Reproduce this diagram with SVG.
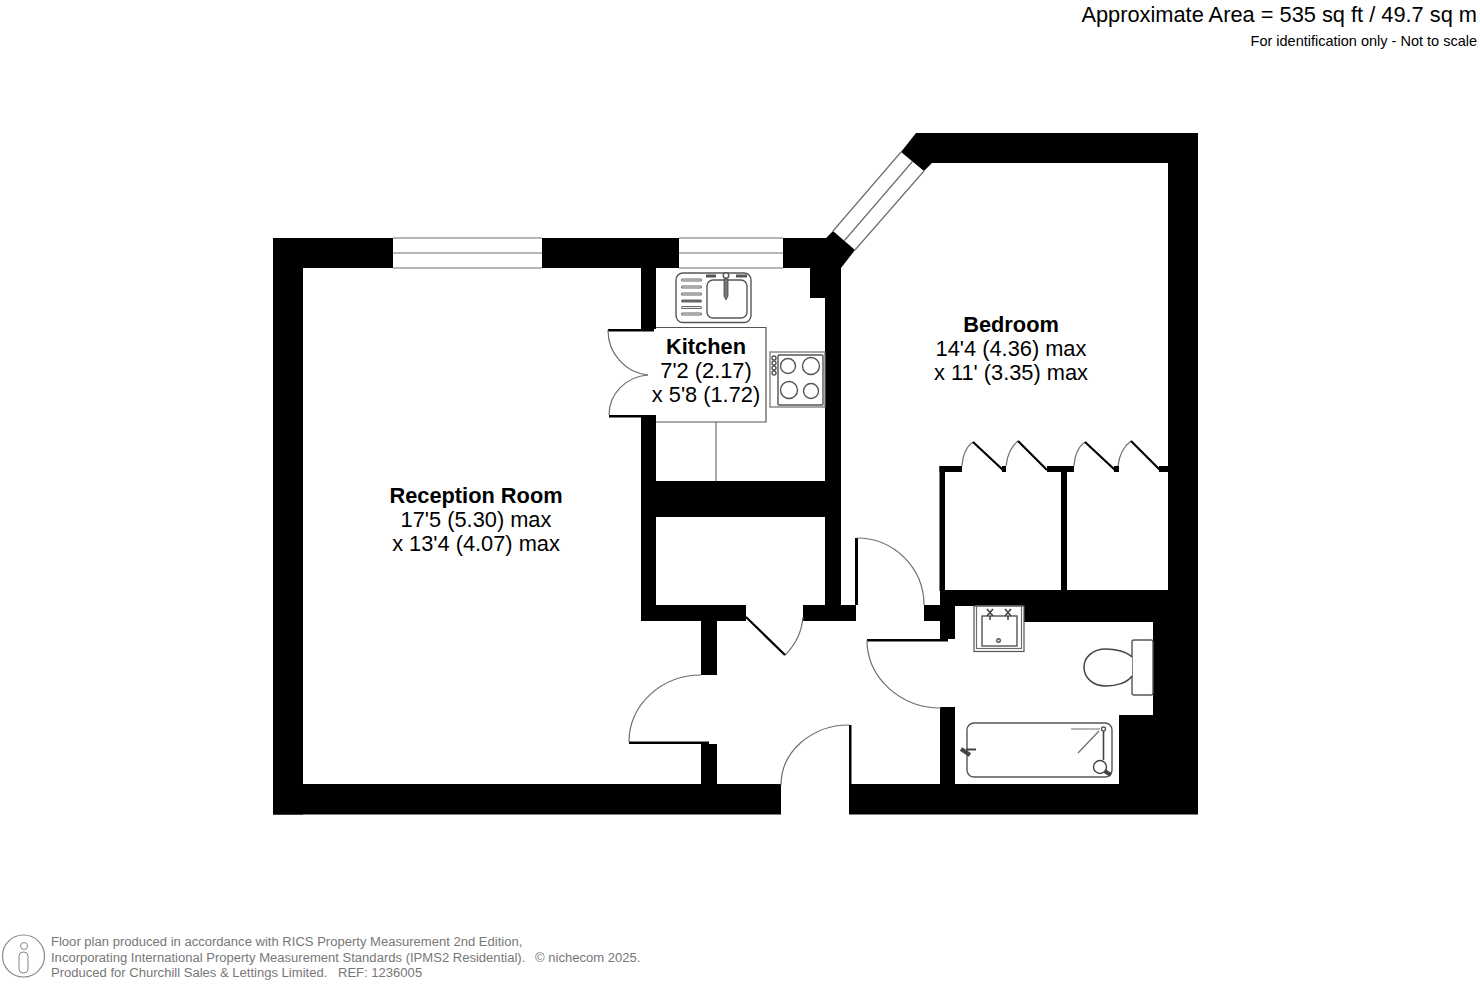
<svg xmlns="http://www.w3.org/2000/svg" width="1480" height="984" viewBox="0 0 1480 984">
<style>
.w{fill:#000}
.l{fill:none;stroke:#6e6e6e;stroke-width:1.2}
.f{fill:none;stroke:#555;stroke-width:1.4}
.lf{fill:none;stroke:#000;stroke-width:2.2}
text{font-family:"Liberation Sans",Arial,sans-serif;fill:#000}
.b{font-weight:bold}
.r{font-size:21.8px;text-anchor:middle}
.foot{font-size:13.05px;fill:#777}
</style>
<rect width="1480" height="984" fill="#fff"/>
<g id="walls">
<rect class="w" x="273" y="238" width="120" height="30"/>
<rect class="w" x="542" y="238" width="137" height="30"/>
<polygon class="w" points="783,238 826,238 833,231 855,250 841,268 841,621 856,621 856,605 858,605 858,538 855,538 855,605 825,605 825,298 810,298 810,268 783,268"/>
<rect class="w" x="273" y="238" width="30" height="576.500"/>
<rect class="w" x="273" y="784" width="508" height="30.500"/>
<rect class="w" x="849" y="784" width="349" height="30.500"/>
<rect class="w" x="849" y="725" width="2.500" height="60"/>
<rect class="w" x="641" y="268" width="15" height="61"/>
<rect class="w" x="608" y="329" width="46" height="2.500"/>
<rect class="w" x="609" y="415" width="47" height="2.500"/>
<rect class="w" x="641" y="416" width="15" height="205"/>
<rect class="w" x="641" y="481" width="200" height="36"/>
<rect class="w" x="641" y="605" width="105" height="16"/>
<rect class="w" x="803" y="605" width="38" height="16"/>
<rect class="w" x="701" y="621" width="16" height="54"/>
<rect class="w" x="701" y="744" width="16" height="41"/>
<rect class="w" x="629" y="741.500" width="80" height="2.500"/>
<polygon class="w" points="916,133 1198,133 1198,814 1119,814 1119,715 1153,715 1153,622 1024,622 1024,590 1168,590 1168,163 932,163 924,171 901,152"/>
<rect class="w" x="940" y="590" width="90" height="16"/>
<rect class="w" x="924" y="605" width="31" height="16"/>
<rect class="w" x="940" y="605" width="15" height="34"/>
<rect class="w" x="867" y="639" width="81" height="2.500"/>
<rect class="w" x="940" y="707" width="15" height="78"/>
<rect class="w" x="939.500" y="466" width="5.500" height="125"/>
<rect class="w" x="939.500" y="466" width="22.500" height="6"/>
<rect class="w" x="1047" y="466" width="27" height="6"/>
<rect class="w" x="1061" y="466" width="6" height="125"/>
<rect class="w" x="1002" y="466" width="4" height="6"/>
<rect class="w" x="1114" y="466" width="5" height="6"/>
<rect class="w" x="1159" y="466" width="9" height="6"/>
</g>
<g id="windows">
<path class="l" d="M393 238H542M393 253H542M393 268H542M679 238H783M679 253H783M679 268H783"/>
<path class="l" d="M901 152L833 231M912.500 161.500L844.500 240.500M924 171L855 250"/>
</g>
<g id="doors">
<path class="l" d="M857 538A67 67 0 0 1 924 605"/>
<path class="l" d="M867 640A74 68 0 0 0 941 708"/>
<path class="l" d="M701 675A72 67 0 0 0 629 742"/>
<path class="l" d="M849 725A68 60 0 0 0 781 785"/>
<path class="l" d="M803 617A60 60 0 0 1 785 655"/>
<path class="lf" d="M746 617L785 655"/>
<path class="l" d="M608 330A44 45 0 0 0 648 375"/>
<path class="l" d="M609 415A42 40 0 0 1 648 375"/>
<path class="l" d="M962 466Q963 449 973 442M1006 466Q1008 449 1018 441M1074 466Q1075 449 1085 442M1118 466Q1120 449 1131 441"/>
<path class="lf" d="M973 442L1003 470M1018 441L1047 470M1085 442L1115 470M1131 441L1160 470"/>
</g>
<g id="kitchen-fittings">
<path class="l" d="M716 422V481"/>
<g id="sink">
<rect class="f" x="676" y="273" width="75" height="49.500" rx="7"/>
<rect class="f" x="707" y="280" width="40" height="38" rx="6"/>
<path d="M682.500 280H700.500M682.500 287H700.500M682.500 294H700.500M682.500 301H700.500M682.500 307.500H700.500M682.500 314H700.500" fill="none" stroke="#666" stroke-width="3" stroke-linecap="round"/>
<path d="M682.500 280H700.500M682.500 287H700.500M682.500 294H700.500M682.500 307.500H700.500M682.500 314H700.500" fill="none" stroke="#eee" stroke-width="1" stroke-linecap="round"/>
<path d="M706 276H716M736 276H747" stroke="#555" stroke-width="3" fill="none"/>
<path d="M724 279V296L726 300L728 296V279Z" fill="#777" stroke="#444" stroke-width="0.800"/>
<circle cx="726" cy="275.500" r="2.800" fill="#fff" stroke="#555" stroke-width="1.400"/>
</g>
<g id="hob">
<rect class="l" x="770" y="352" width="55" height="55"/>
<rect class="f" x="778" y="355" width="45" height="50" rx="1"/>
<circle class="f" cx="788" cy="366" r="7.500"/>
<circle class="f" cx="811" cy="366" r="8.500"/>
<circle class="f" cx="789" cy="390" r="8.500"/>
<circle class="f" cx="811" cy="391" r="7.500"/>
<circle class="f" cx="774" cy="358" r="2"/>
<circle class="f" cx="774" cy="363" r="2"/>
<circle class="f" cx="774" cy="368" r="2"/>
<circle class="f" cx="774" cy="373" r="2"/>
</g>
<path d="M656 327.500H766V422H656" fill="#fff" stroke="#555" stroke-width="1.200"/>
</g>
<g id="bathroom-fittings">
<rect x="974" y="606" width="50" height="45.500" fill="#fff" stroke="#555" stroke-width="1.200"/>
<rect class="l" x="976.500" y="606" width="45" height="42.500"/>
<rect class="f" x="982" y="616" width="35" height="30"/>
<path d="M987 609L993 616M993 609L987 616M1005 609L1011 616M1011 609L1005 616" stroke="#444" stroke-width="1.600" fill="none"/>
<path d="M990 616V620M1008 616V620" stroke="#444" stroke-width="1.600" fill="none"/>
<circle class="f" cx="998.500" cy="640.500" r="1.800"/>
<rect x="955" y="715" width="164" height="69" fill="#fff"/>
<rect class="f" x="967" y="723" width="145" height="54" rx="7"/>
<path class="l" d="M1071 729H1100M1099 731L1078 753"/>
<path d="M1103.500 731V760" stroke="#444" stroke-width="1.600" fill="none"/>
<circle class="f" cx="1103.500" cy="729" r="2"/>
<path d="M1098 767L1111 775" stroke="#444" stroke-width="4" fill="none"/>
<circle cx="1100" cy="767" r="6.500" fill="#fff" stroke="#444" stroke-width="1.400"/>
<path d="M961 749L970 755" stroke="#444" stroke-width="4" fill="none"/>
<path d="M966 749.500H976" stroke="#444" stroke-width="2" fill="none"/>
<rect class="f" x="1132" y="640" width="21" height="55" rx="2"/>
<path d="M1132 657C1126 651 1114 649 1106 649C1092 649 1084 658 1084 667C1084 678 1093 686 1106 686C1116 686 1127 683 1132 676" fill="#fff" stroke="#444" stroke-width="1.500"/>
</g>
<g id="labels">
<text class="r b" x="476" y="503">Reception Room</text>
<text class="r" x="476" y="527">17'5 (5.30) max</text>
<text class="r" x="476" y="551">x 13'4 (4.07) max</text>
<text class="r b" x="706" y="354">Kitchen</text>
<text class="r" x="706" y="378">7'2 (2.17)</text>
<text class="r" x="706" y="402">x 5'8 (1.72)</text>
<text class="r b" x="1011" y="332">Bedroom</text>
<text class="r" x="1011" y="356">14'4 (4.36) max</text>
<text class="r" x="1011" y="380">x 11' (3.35) max</text>
</g>
<g id="header">
<text x="1477" y="21.500" font-size="21.800" text-anchor="end">Approximate Area = 535 sq ft / 49.7 sq m</text>
<text x="1477" y="46" font-size="14.500" text-anchor="end">For identification only - Not to scale</text>
</g>
<g id="footer">
<circle cx="23.500" cy="956" r="21" fill="none" stroke="#888" stroke-width="1.200"/>
<circle cx="24" cy="946" r="3.500" fill="none" stroke="#888"/>
<rect x="19" y="952" width="9" height="21" rx="4" fill="none" stroke="#888"/>
<text class="foot" x="51" y="946">Floor plan produced in accordance with RICS Property Measurement 2nd Edition,</text>
<text class="foot" x="51" y="962">Incorporating International Property Measurement Standards (IPMS2 Residential).</text>
<text class="foot" x="535" y="962">© nichecom 2025.</text>
<text class="foot" x="51" y="977">Produced for Churchill Sales &amp; Lettings Limited.</text>
<text class="foot" x="338" y="977">REF: 1236005</text>
</g>
</svg>
